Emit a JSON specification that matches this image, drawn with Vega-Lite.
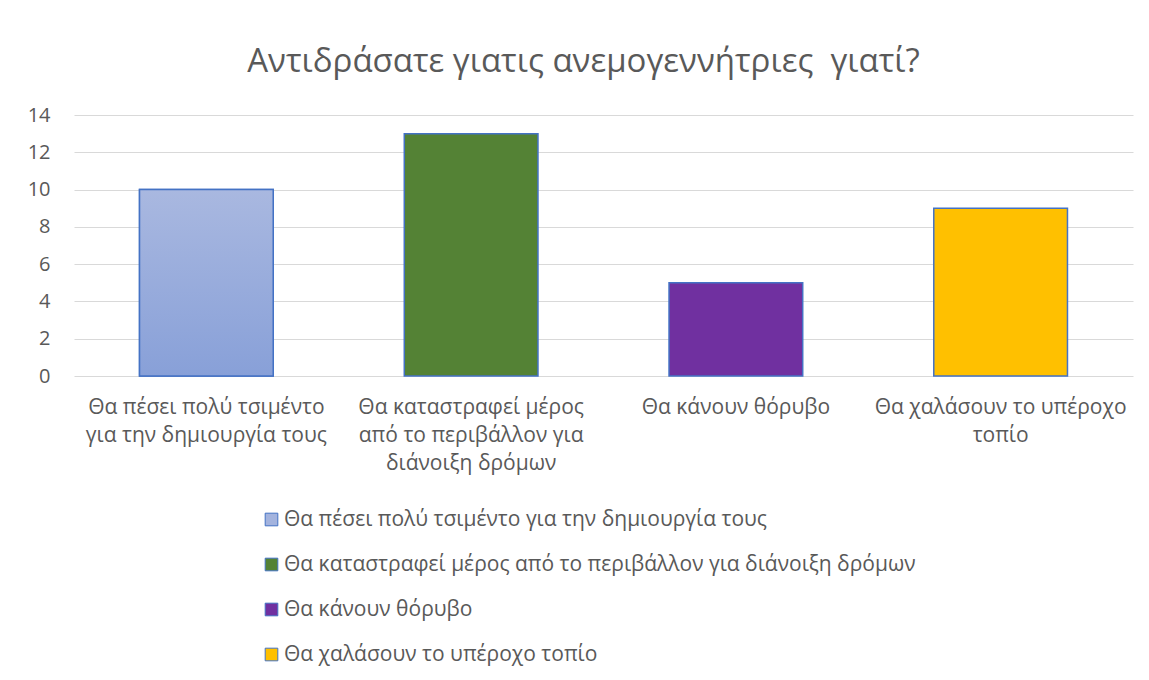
{
  "$schema": "https://vega.github.io/schema/vega-lite/v6.json",
  "width": 1059,
  "height": 261,
  "autosize": {"type": "none"},
  "padding": {"left": 74, "top": 115, "right": 16, "bottom": 304},
  "background": "white",
  "title": {
    "text": "Αντιδράσατε γιατις ανεμογεννήτριες \u00a0γιατί?",
    "font": "Open Sans",
    "fontSize": 33,
    "fontWeight": "normal",
    "color": "#595959",
    "anchor": "middle",
    "dx": -20,
    "offset": 26
  },
  "data": {
    "values": [
      {"cat": "Θα πέσει πολύ τσιμέντο για την δημιουργία τους", "value": 10},
      {"cat": "Θα καταστραφεί μέρος από το περιβάλλον για διάνοιξη δρόμων", "value": 13},
      {"cat": "Θα κάνουν θόρυβο", "value": 5},
      {"cat": "Θα χαλάσουν το υπέροχο τοπίο", "value": 9}
    ]
  },
  "encoding": {
    "x": {
      "field": "cat",
      "type": "nominal",
      "sort": null,
      "title": null,
      "scale": {"paddingInner": 0.495, "paddingOuter": 0.2475},
      "axis": {
        "labelAngle": 0,
        "ticks": false,
        "domain": false,
        "labelFont": "Open Sans",
        "labelFontSize": 21,
        "labelColor": "#595959",
        "labelPadding": 20,
        "labelLineHeight": 28,
        "labelLimit": 300,
        "labelExpr": "datum.value == 'Θα πέσει πολύ τσιμέντο για την δημιουργία τους' ? ['Θα πέσει πολύ τσιμέντο', 'για την δημιουργία τους'] : datum.value == 'Θα καταστραφεί μέρος από το περιβάλλον για διάνοιξη δρόμων' ? ['Θα καταστραφεί μέρος', 'από το περιβάλλον για', 'διάνοιξη δρόμων'] : datum.value == 'Θα χαλάσουν το υπέροχο τοπίο' ? ['Θα χαλάσουν το υπέροχο', 'τοπίο'] : datum.value"
      }
    },
    "y": {
      "field": "value",
      "type": "quantitative",
      "title": null,
      "scale": {"domain": [0, 14]},
      "axis": {
        "values": [0, 2, 4, 6, 8, 10, 12, 14],
        "ticks": false,
        "domain": false,
        "grid": true,
        "gridColor": "#d9d9d9",
        "gridWidth": 1,
        "labelFont": "Open Sans",
        "labelFontSize": 20,
        "labelColor": "#595959",
        "labelPadding": 24
      }
    }
  },
  "layer": [
    {
      "mark": {"type": "bar", "stroke": "#4472c4", "strokeWidth": 1.5},
      "encoding": {
        "fill": {
          "field": "cat",
          "type": "nominal",
          "sort": null,
          "scale": {"range": ["#a3b3de", "#548235", "#7030a0", "#ffc000"]},
          "legend": {
            "title": null,
            "orient": "none",
            "legendX": 187,
            "legendY": 394,
            "direction": "vertical",
            "symbolType": "square",
            "symbolSize": 160,
            "symbolStrokeColor": "#4472c4",
            "symbolStrokeWidth": 1,
            "labelFont": "Open Sans",
            "labelFontSize": 21,
            "labelColor": "#595959",
            "labelLimit": 800,
            "labelOffset": 2,
            "rowPadding": 23
          }
        }
      }
    },
    {
      "transform": [{"filter": "datum.cat == 'Θα πέσει πολύ τσιμέντο για την δημιουργία τους'"}],
      "mark": {
        "type": "bar",
        "stroke": "#4472c4",
        "strokeWidth": 1.5,
        "fill": {
          "gradient": "linear",
          "x1": 0, "y1": 0, "x2": 0, "y2": 1,
          "stops": [
            {"offset": 0, "color": "#a9b8e0"},
            {"offset": 1, "color": "#88a0d8"}
          ]
        }
      }
    }
  ],
  "config": {"view": {"stroke": null}}
}
